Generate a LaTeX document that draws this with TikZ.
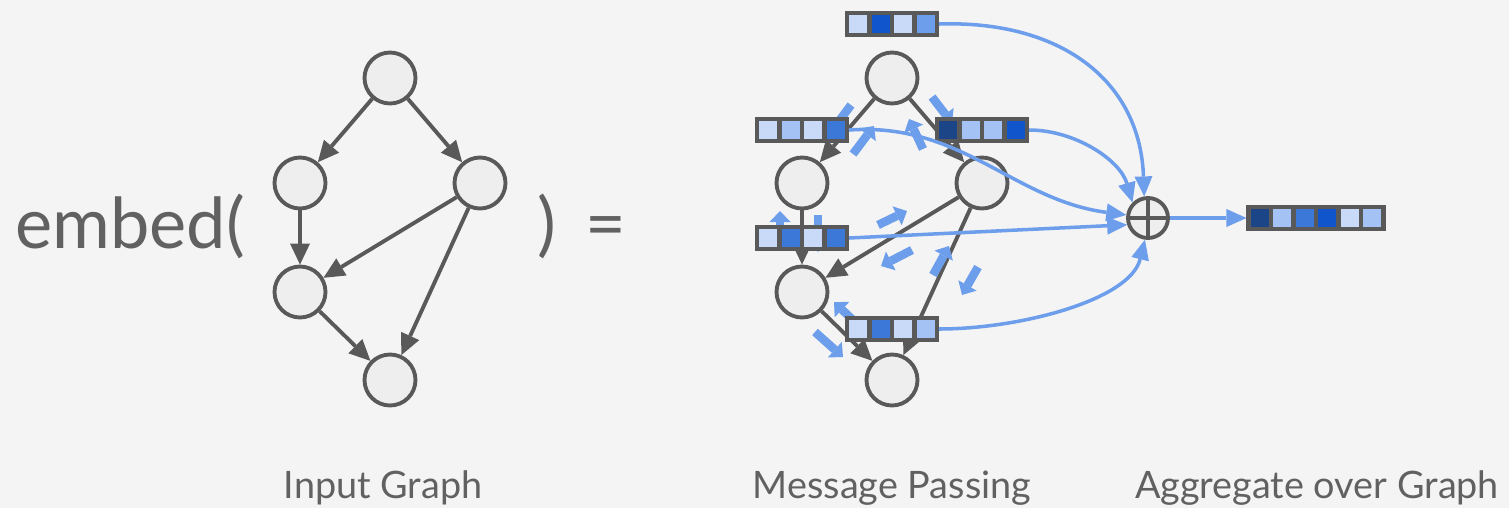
\documentclass[tikz,border=0pt]{standalone}
\usepackage{fontspec}
\setmainfont{Lato}
\usepackage{tikz}
\usetikzlibrary{arrows.meta}

\definecolor{bg}{HTML}{F4F4F4}
\definecolor{ink}{HTML}{595959}
\definecolor{txt}{HTML}{616161}
\definecolor{vfill}{HTML}{EEEEEE}
\definecolor{msg}{HTML}{6D9EEB}
\definecolor{e1}{HTML}{C9DAF8}
\definecolor{e2}{HTML}{A4C2F4}
\definecolor{e3}{HTML}{6D9EEB}
\definecolor{e4}{HTML}{3C78D8}
\definecolor{e5}{HTML}{1155CC}
\definecolor{e6}{HTML}{1C4587}

% name, x, y, number of cells, cell colours
\newcommand{\embvec}[5]{%
  \foreach \c [count=\i] in {#5}
    \node[cell,fill=\c] (#1-\i) at ({#2+(\i-(#4+1)/2)*22.5},#3) {};
}

\begin{document}
\begin{tikzpicture}
          [x=0.02cm,y=-0.02cm,
           vertex/.style={circle,draw=ink,fill=vfill,line width=2.2pt,minimum size=1.02cm,inner sep=0pt},
           edge/.style={draw=ink,line width=2.2pt,-{Triangle[length=0.42cm,width=0.4cm,line width=0pt]}},
           cell/.style={rectangle,draw=ink,line width=2.3pt,minimum size=0.45cm,inner sep=0pt},
           msgarrow/.style={draw=msg,line width=0.17cm,-{Triangle[length=0.22cm,width=0.42cm,line width=0pt]}},
           pool/.style={draw=msg,line width=2pt,-{Triangle[length=0.4cm,width=0.36cm,line width=0pt]}},
           plus/.style={circle,draw=ink,fill=vfill,line width=2.2pt,minimum size=0.8cm,inner sep=0pt,
             path picture={\draw[ink,line width=2.2pt]
               (path picture bounding box.north) -- (path picture bounding box.south)
               (path picture bounding box.west) -- (path picture bounding box.east);}},
           lbl/.style={text=txt,inner sep=0pt,anchor=base,font=\fontsize{21.5}{25}\selectfont},
           big/.style={text=txt,inner sep=0pt,anchor=base,font=\fontsize{40}{46}\selectfont}]
          \fill[bg] (0,0) rectangle (1509,508);
          \useasboundingbox (0,0) rectangle (1509,508);

          \node[big,anchor=base west] (emb) at (15,248) {embed(};
          \node[big] (close) at (547,248) {)};
          \node[big] (eq) at (606,248) {=};

          % input graph
          \node[vertex] (a1) at (390,78) {};
          \node[vertex] (a2) at (300,183) {};
          \node[vertex] (a3) at (480,183) {};
          \node[vertex] (a4) at (300,292) {};
          \node[vertex] (a5) at (390,380) {};

          \foreach \from/\to in {a1/a2,a1/a3,a2/a4,a3/a4,a3/a5,a4/a5}
            \draw[edge] (\from) -- (\to);

          % message passing
          \node[vertex] (m1) at (892,78) {};
          \node[vertex] (m2) at (802,183) {};
          \node[vertex] (m3) at (982,183) {};
          \node[vertex] (m4) at (802,292) {};
          \node[vertex] (m5) at (892,380) {};

          \foreach \from/\to in {m1/m2,m1/m3,m2/m4,m3/m4,m3/m5,m4/m5}
            \draw[edge] (\from) -- (\to);

          \foreach \x/\y/\u/\v in {851/105/830/133, 853/154/874/126, 932/97/952/123, 923/149/909/119,
                                   780/250/780/211, 818/215/818/252, 878/225/907/211, 912/250/881/266,
                                   933/275/949/246, 978/267/962/295, 855/322/834/302, 815/332/843/357}
            \draw[msgarrow] (\x,\y) -- (\u,\v);

          \embvec{bt}{892}{24}{4}{e1,e5,e1,e3}
          \embvec{bl}{802}{130}{4}{e1,e2,e1,e4}
          \embvec{br}{982}{130}{4}{e6,e2,e2,e5}
          \embvec{bm}{802}{238}{4}{e1,e4,e1,e4}
          \embvec{bb}{892}{329}{4}{e1,e4,e1,e2}

          % aggregate
          \node[plus] (sum) at (1148,218) {};
          \embvec{out}{1316}{218}{6}{e6,e2,e4,e5,e1,e2}

          \draw[pool] (bt-4.east) .. controls (1060,20) and (1140,80) .. (sum.100);
          \draw[pool] (bl-4.east) .. controls (962,122) and (1013,200) .. (sum.172);
          \draw[pool] (br-4.east) .. controls (1075,130) and (1120,160) .. (sum.135);
          \draw[pool] (bm-4.east) -- (sum.198);
          \draw[pool] (bb-4.east) .. controls (1020,329) and (1130,300) .. (sum.262);
          \draw[pool] (sum) -- (out-1);

          \node[lbl] (t1) at (383,498) {Input Graph};
          \node[lbl] (t2) at (892,498) {Message Passing};
          \node[lbl] (t3) at (1317,498) {Aggregate over Graph};

        \end{tikzpicture}
\end{document}
